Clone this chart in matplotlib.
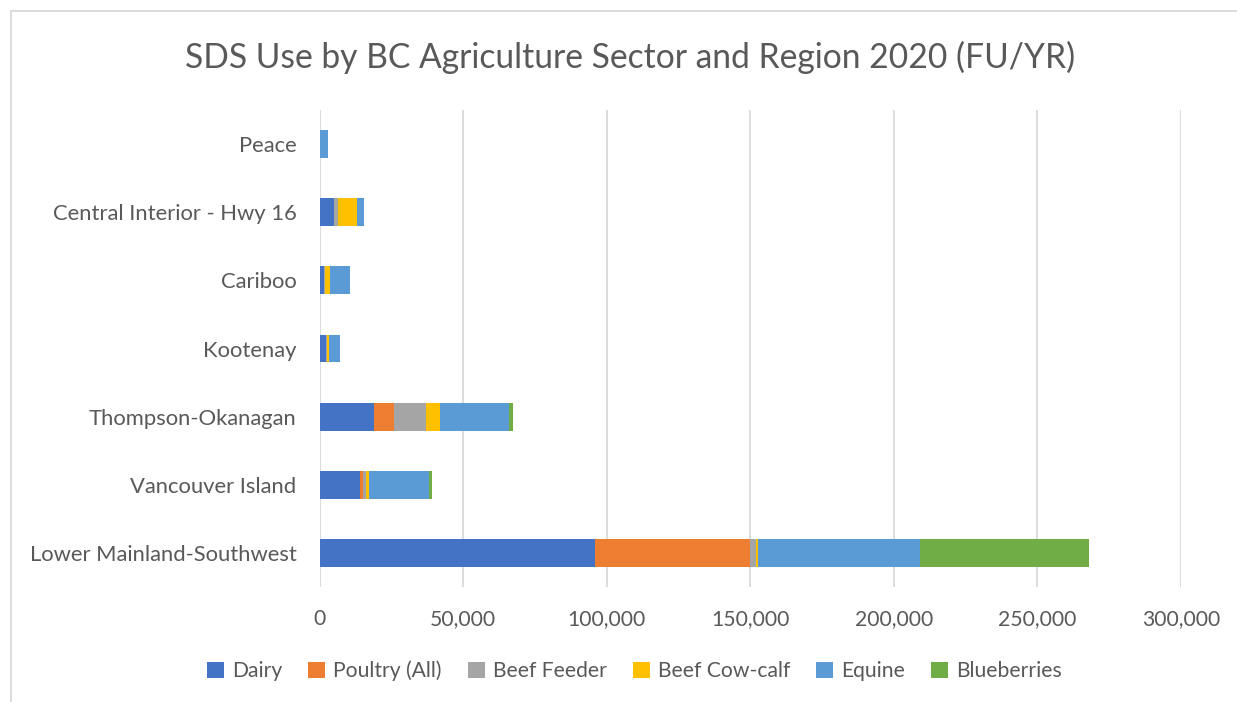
import matplotlib
matplotlib.use("Agg")
import matplotlib.pyplot as plt
from matplotlib.lines import Line2D
from matplotlib.patches import Patch

plt.rcParams['font.family'] = ['Lato', 'DejaVu Sans']

regions = ["Peace", "Central Interior - Hwy 16", "Cariboo", "Kootenay",
           "Thompson-Okanagan", "Vancouver Island", "Lower Mainland-Southwest"]
sectors = ["Dairy", "Poultry (All)", "Beef Feeder", "Beef Cow-calf", "Equine", "Blueberries"]
dairy       = [0,    5100, 1400, 2200, 18900, 14000, 96000]
poultry     = [0,    0,    0,    200,  7100,  1300,  53800]
beef_feeder = [0,    1200, 600,  200,  11200, 1000,  2200]
beef_cow    = [0,    6900, 1500, 800,  4800,  800,   800]
equine      = [3000, 2300, 7200, 3800, 24000, 21000, 56200]
blueberries = [0,    0,    0,    0,    1400,  1100,  59000]
series = [dairy, poultry, beef_feeder, beef_cow, equine, blueberries]
colors = ["#4472C4", "#ED7D31", "#A5A5A5", "#FFC000", "#5B9BD5", "#70AD47"]
xticks = [0, 50000, 100000, 150000, 200000, 250000, 300000]

W, H = 1237, 702
fig = plt.figure(figsize=(W/100, H/100), dpi=100)
ax = fig.add_axes([319.5/W, 1-587/H, (1181-319.5)/W, (587-110)/H])

ypos = list(range(len(regions)))
left = [0]*len(regions)
for vals, c, name in zip(series, colors, sectors):
    ax.barh(ypos, vals, left=left, height=0.41, color=c, label=name, zorder=3)
    left = [a+b for a, b in zip(left, vals)]

ax.set_ylim(len(regions)-0.5, -0.5)
ax.set_xlim(0, 300000)
ax.set_xticks(xticks)
ax.set_xticklabels([f"{v:,}" for v in xticks])
ax.set_yticks(ypos)
ax.set_yticklabels(regions)
ax.grid(axis='x', color='#D9D9D9', linewidth=1.3, zorder=0)
for s in ax.spines.values():
    s.set_visible(False)
ax.tick_params(length=0, colors='#595959')
ax.tick_params(axis='x', pad=16, labelsize=15.2)
ax.tick_params(axis='y', pad=16.5, labelsize=15.8)

fig.text(630.5/W, 1-57/H, "SDS Use by BC Agriculture Sector and Region 2020 (FU/YR)",
         ha='center', va='center', fontsize=24.2, color='#595959')

handles = [Patch(facecolor=c) for c in colors]
fig.legend(handles, sectors, loc='center', bbox_to_anchor=(634.5/W, 1-671/H),
           ncol=6, frameon=False, fontsize=15.2, labelcolor='#595959',
           handlelength=0.8, handleheight=0.8, handletextpad=0.4, columnspacing=1.22)

fig.add_artist(Line2D([11/W, 11/W], [0, 1-11/H], color='#D9D9D9', lw=1.3))
fig.add_artist(Line2D([11/W, 1], [1-11/H, 1-11/H], color='#D9D9D9', lw=1.3))

fig.savefig("out.png", dpi=100, facecolor='white')
